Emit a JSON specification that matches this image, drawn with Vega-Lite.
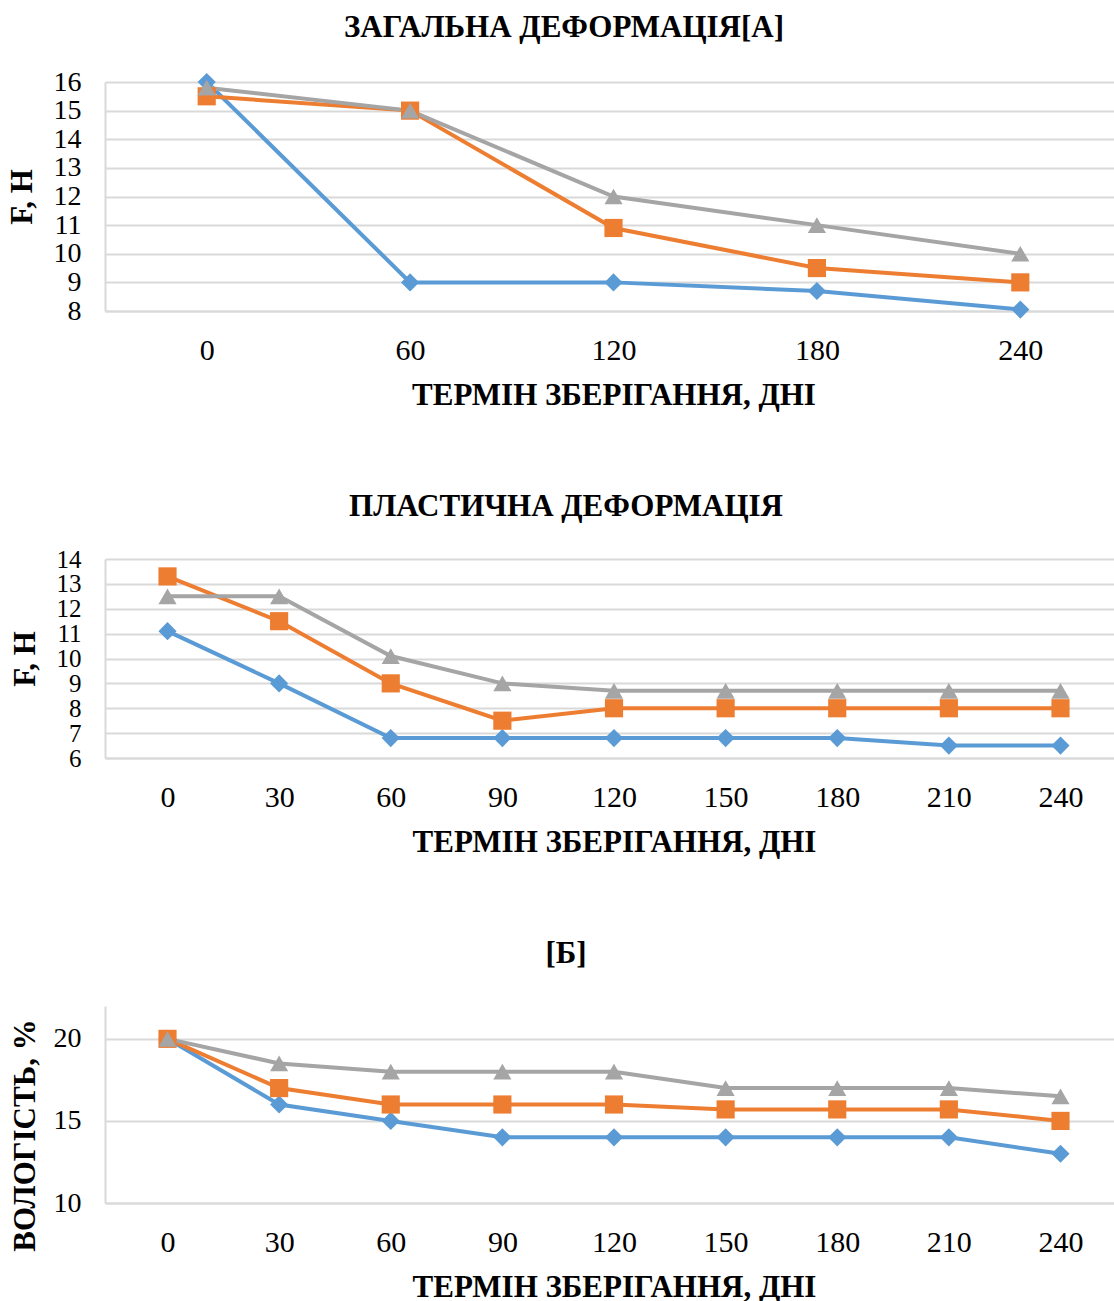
{
  "$schema": "https://vega.github.io/schema/vega-lite/v6.json",
  "padding": {"left": 6, "top": 12, "right": 0, "bottom": 0},
  "background": "white",
  "spacing": 81,
  "config": {
    "view": {"stroke": null},
    "font": "Liberation Serif",
    "axis": {
      "labelFont": "Liberation Serif", "titleFont": "Liberation Serif",
      "labelFontSize": 28, "titleFontSize": 31, "labelColor": "#000000", "titleColor": "#000000",
      "ticks": false, "domainColor": "#D9D9D9", "domainWidth": 2, "gridColor": "#D9D9D9", "gridWidth": 2,
      "titleFontWeight": "bold", "labelOverlap": false, "labelFlush": false, "labelBound": false
    },
    "axisX": {"labelAngle": 0, "grid": false, "labelPadding": 24, "titlePadding": 15, "labelFontSize": 30},
    "axisY": {"labelPadding": 24, "titlePadding": 15},
    "title": {"font": "Liberation Serif", "fontSize": 31, "fontWeight": "bold", "color": "#000000", "frame": "bounds", "anchor": "middle", "offset": 24}
  },
  "datasets": {
    "p1": [
      {"day": 0, "series": "1", "value": 16}, {"day": 60, "series": "1", "value": 9}, {"day": 120, "series": "1", "value": 9}, {"day": 180, "series": "1", "value": 8.7}, {"day": 240, "series": "1", "value": 8.05},
      {"day": 0, "series": "2", "value": 15.5}, {"day": 60, "series": "2", "value": 15}, {"day": 120, "series": "2", "value": 10.9}, {"day": 180, "series": "2", "value": 9.5}, {"day": 240, "series": "2", "value": 9},
      {"day": 0, "series": "3", "value": 15.8}, {"day": 60, "series": "3", "value": 15}, {"day": 120, "series": "3", "value": 12}, {"day": 180, "series": "3", "value": 11}, {"day": 240, "series": "3", "value": 10}
    ],
    "p2": [
      {"day": 0, "series": "1", "value": 11.1}, {"day": 30, "series": "1", "value": 9}, {"day": 60, "series": "1", "value": 6.8}, {"day": 90, "series": "1", "value": 6.8}, {"day": 120, "series": "1", "value": 6.8}, {"day": 150, "series": "1", "value": 6.8}, {"day": 180, "series": "1", "value": 6.8}, {"day": 210, "series": "1", "value": 6.5}, {"day": 240, "series": "1", "value": 6.5},
      {"day": 0, "series": "2", "value": 13.3}, {"day": 30, "series": "2", "value": 11.5}, {"day": 60, "series": "2", "value": 9}, {"day": 90, "series": "2", "value": 7.5}, {"day": 120, "series": "2", "value": 8}, {"day": 150, "series": "2", "value": 8}, {"day": 180, "series": "2", "value": 8}, {"day": 210, "series": "2", "value": 8}, {"day": 240, "series": "2", "value": 8},
      {"day": 0, "series": "3", "value": 12.5}, {"day": 30, "series": "3", "value": 12.5}, {"day": 60, "series": "3", "value": 10.1}, {"day": 90, "series": "3", "value": 9}, {"day": 120, "series": "3", "value": 8.7}, {"day": 150, "series": "3", "value": 8.7}, {"day": 180, "series": "3", "value": 8.7}, {"day": 210, "series": "3", "value": 8.7}, {"day": 240, "series": "3", "value": 8.7}
    ],
    "p3": [
      {"day": 0, "series": "1", "value": 20}, {"day": 30, "series": "1", "value": 16}, {"day": 60, "series": "1", "value": 15}, {"day": 90, "series": "1", "value": 14}, {"day": 120, "series": "1", "value": 14}, {"day": 150, "series": "1", "value": 14}, {"day": 180, "series": "1", "value": 14}, {"day": 210, "series": "1", "value": 14}, {"day": 240, "series": "1", "value": 13},
      {"day": 0, "series": "2", "value": 20}, {"day": 30, "series": "2", "value": 17}, {"day": 60, "series": "2", "value": 16}, {"day": 90, "series": "2", "value": 16}, {"day": 120, "series": "2", "value": 16}, {"day": 150, "series": "2", "value": 15.7}, {"day": 180, "series": "2", "value": 15.7}, {"day": 210, "series": "2", "value": 15.7}, {"day": 240, "series": "2", "value": 15},
      {"day": 0, "series": "3", "value": 20}, {"day": 30, "series": "3", "value": 18.5}, {"day": 60, "series": "3", "value": 18}, {"day": 90, "series": "3", "value": 18}, {"day": 120, "series": "3", "value": 18}, {"day": 150, "series": "3", "value": 17}, {"day": 180, "series": "3", "value": 17}, {"day": 210, "series": "3", "value": 17}, {"day": 240, "series": "3", "value": 16.5}
    ]
  },
  "vconcat": [
    {
      "title": "ЗАГАЛЬНА ДЕФОРМАЦІЯ[А]",
      "width": 1017, "height": 229,
      "data": {"name": "p1"},
      "encoding": {
        "x": {"field": "day", "type": "ordinal", "scale": {"type": "point", "padding": 0.5}, "axis": {"title": "ТЕРМІН ЗБЕРІГАННЯ, ДНІ"}},
        "y": {"field": "value", "type": "quantitative", "scale": {"domain": [8, 16], "zero": false, "nice": false}, "axis": {"title": "F, Н", "values": [8, 9, 10, 11, 12, 13, 14, 15, 16]}},
        "color": {"field": "series", "type": "nominal", "scale": {"domain": ["1", "2", "3"], "range": ["#5B9BD5", "#ED7D31", "#A5A5A5"]}, "legend": null}
      },
      "layer": [
        {"mark": {"type": "line", "strokeWidth": 4}},
        {"mark": {"type": "point", "filled": true, "opacity": 1, "size": 330}, "encoding": {"shape": {"field": "series", "type": "nominal", "scale": {"domain": ["1", "2", "3"], "range": ["diamond", "square", "triangle-up"]}, "legend": null}}}
      ]
    },
    {
      "title": "ПЛАСТИЧНА ДЕФОРМАЦІЯ",
      "width": 1018, "height": 199,
      "data": {"name": "p2"},
      "encoding": {
        "x": {"field": "day", "type": "ordinal", "scale": {"type": "point", "padding": 0.56}, "axis": {"title": "ТЕРМІН ЗБЕРІГАННЯ, ДНІ"}},
        "y": {"field": "value", "type": "quantitative", "scale": {"domain": [6, 14], "zero": false, "nice": false}, "axis": {"title": "F, Н", "values": [6, 7, 8, 9, 10, 11, 12, 13, 14], "labelFontSize": 25}},
        "color": {"field": "series", "type": "nominal", "scale": {"domain": ["1", "2", "3"], "range": ["#5B9BD5", "#ED7D31", "#A5A5A5"]}, "legend": null}
      },
      "layer": [
        {"mark": {"type": "line", "strokeWidth": 4}},
        {"mark": {"type": "point", "filled": true, "opacity": 1, "size": 330}, "encoding": {"shape": {"field": "series", "type": "nominal", "scale": {"domain": ["1", "2", "3"], "range": ["diamond", "square", "triangle-up"]}, "legend": null}}}
      ]
    },
    {
      "title": {"text": "[Б]", "offset": 36},
      "width": 1018, "height": 197,
      "data": {"name": "p3"},
      "encoding": {
        "x": {"field": "day", "type": "ordinal", "scale": {"type": "point", "padding": 0.56}, "axis": {"title": "ТЕРМІН ЗБЕРІГАННЯ, ДНІ"}},
        "y": {"field": "value", "type": "quantitative", "scale": {"domain": [10, 22], "zero": false, "nice": false}, "axis": {"title": "ВОЛОГІСТЬ, %", "values": [10, 15, 20], "titlePadding": 12, "titleY": 129}},
        "color": {"field": "series", "type": "nominal", "scale": {"domain": ["1", "2", "3"], "range": ["#5B9BD5", "#ED7D31", "#A5A5A5"]}, "legend": null}
      },
      "layer": [
        {"mark": {"type": "line", "strokeWidth": 4}},
        {"mark": {"type": "point", "filled": true, "opacity": 1, "size": 330}, "encoding": {"shape": {"field": "series", "type": "nominal", "scale": {"domain": ["1", "2", "3"], "range": ["diamond", "square", "triangle-up"]}, "legend": null}}}
      ]
    }
  ]
}
